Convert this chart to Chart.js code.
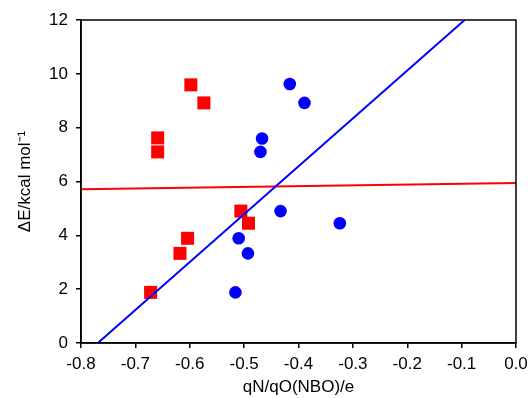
<!DOCTYPE html>
<html>
<head>
<meta charset="utf-8">
<script src="https://cdn.jsdelivr.net/npm/chart.js@4/dist/chart.umd.min.js"></script>
<style>
  body { margin: 0; background: #fff; }
</style>
</head>
<body>
<canvas id="myChart" width="528" height="398"></canvas>
<script>
// values
let redX = [-0.598, -0.574, -0.659, -0.659, -0.506, -0.492, -0.604, -0.618, -0.672];
let redY = [9.59, 8.92, 7.62, 7.10, 4.90, 4.45, 3.89, 3.33, 1.88];
let blueX = [-0.416, -0.389, -0.467, -0.470, -0.433, -0.324, -0.510, -0.493, -0.516];
let blueY = [9.62, 8.92, 7.60, 7.10, 4.90, 4.45, 3.89, 3.33, 1.88];

// fit lines (end points)
let redFitX = [-0.8, 0.0];
let redFitY = [5.71, 5.94];
let blueFitX = [-0.769, -0.0945];
let blueFitY = [0, 12];

let xTicks = [-0.8, -0.7, -0.6, -0.5, -0.4, -0.3, -0.2, -0.1, 0.0];
let yTicks = [0, 2, 4, 6, 8, 10, 12];

let xTitle = 'qN/qO(NBO)/e';
let yTitle = 'ΔE/kcal mol⁻¹';

let toPts = (xs, ys) => xs.map((x, i) => ({ x: x, y: ys[i] }));

Chart.defaults.font.family = '"Liberation Sans", Arial, sans-serif';
Chart.defaults.color = '#000';

// box round the plot
let frame = {
  id: 'frame',
  afterDraw(chart) {
    let a = chart.chartArea;
    let c = chart.ctx;
    c.save();
    c.strokeStyle = '#000';
    c.lineWidth = 1.5;
    c.strokeRect(a.left, a.top, a.right - a.left, a.bottom - a.top);
    c.restore();
  }
};

var ctx = document.getElementById('myChart').getContext('2d');
var myChart = new Chart(ctx, {
  type: 'scatter',
  data: {
    datasets: [
      {
        type: 'line',
        data: toPts(blueFitX, blueFitY),
        borderColor: '#0000ff',
        borderWidth: 2,
        pointRadius: 0,
        fill: false
      },
      {
        type: 'line',
        data: toPts(redFitX, redFitY),
        borderColor: '#ff0000',
        borderWidth: 2,
        pointRadius: 0,
        fill: false
      },
      {
        data: toPts(blueX, blueY),
        backgroundColor: '#0000ff',
        borderColor: '#0000ff',
        borderWidth: 0,
        pointStyle: 'circle',
        pointRadius: 6.3
      },
      {
        data: toPts(redX, redY),
        backgroundColor: '#ff0000',
        borderColor: '#ff0000',
        borderWidth: 0,
        pointStyle: 'rect',
        pointRadius: 9.2
      }
    ]
  },
  options: {
    responsive: false,
    animation: false,
    layout: { padding: { left: 0, right: 12, top: 20, bottom: 0 } },
    plugins: { legend: { display: false }, tooltip: { enabled: false } },
    scales: {
      x: {
        type: 'linear',
        min: -0.8,
        max: 0.0,
        afterBuildTicks: (s) => { s.ticks = xTicks.map(v => ({ value: v })); },
        afterFit: (s) => { s.height = 55; s.paddingLeft = 0; s.paddingRight = 0; },
        ticks: {
          font: { size: 17 },
          padding: 6,
          maxRotation: 0,
          callback: (v) => Number(v).toFixed(1)
        },
        grid: { drawOnChartArea: false, tickLength: 5, color: '#000', lineWidth: 1.5 },
        border: { color: '#000', width: 1.5 },
        title: { display: true, text: xTitle, font: { size: 17 }, padding: { top: 1, bottom: 0 } }
      },
      y: {
        type: 'linear',
        min: 0,
        max: 12,
        afterBuildTicks: (s) => { s.ticks = yTicks.map(v => ({ value: v })); },
        afterFit: (s) => { s.width = 81; s.paddingTop = 0; s.paddingBottom = 0; },
        ticks: { font: { size: 17 }, padding: 8 },
        grid: { drawOnChartArea: false, tickLength: 5, color: '#000', lineWidth: 1.5 },
        border: { color: '#000', width: 1.5 },
        title: { display: true, text: yTitle, font: { size: 17 }, padding: { top: 15, bottom: 4 } }
      }
    }
  },
  plugins: [frame]
});
</script>
</body>
</html>
